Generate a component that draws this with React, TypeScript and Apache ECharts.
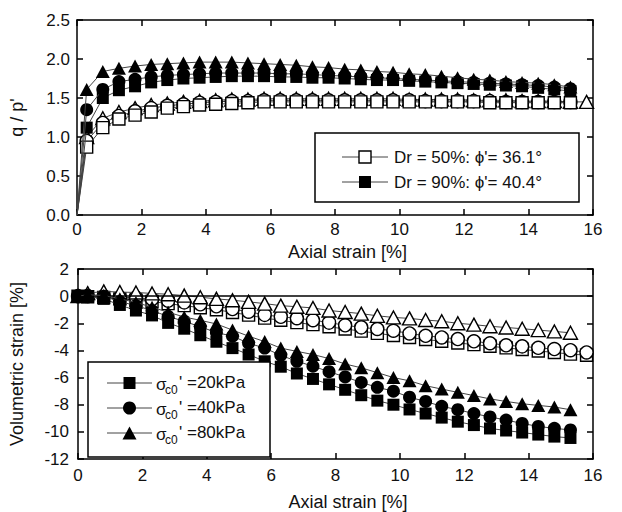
import React, { useEffect, useRef } from "react";
import * as echarts from "echarts";

// Axial strain sample points [%]
const strain = [0, 0.3, 0.8, 1.3, 1.8, 2.3, 2.8, 3.3, 3.8, 4.3, 4.8, 5.3, 5.8, 6.3, 6.8, 7.3, 7.8, 8.3, 8.8, 9.3, 9.8, 10.3, 10.8, 11.3, 11.8, 12.3, 12.8, 13.3, 13.8, 14.3, 14.8, 15.3];
const strainLong = [0, 0.3, 0.8, 1.3, 1.8, 2.3, 2.8, 3.3, 3.8, 4.3, 4.8, 5.3, 5.8, 6.3, 6.8, 7.3, 7.8, 8.3, 8.8, 9.3, 9.8, 10.3, 10.8, 11.3, 11.8, 12.3, 12.8, 13.3, 13.8, 14.3, 14.8, 15.3, 15.8];

// Stress ratio q/p' — Dr = 50% (open) and Dr = 90% (filled)
const qpLoose20 = [0, 0.87, 1.12, 1.23, 1.28, 1.32, 1.37, 1.39, 1.41, 1.42, 1.43, 1.44, 1.45, 1.45, 1.45, 1.45, 1.45, 1.45, 1.45, 1.45, 1.45, 1.45, 1.45, 1.45, 1.45, 1.45, 1.44, 1.44, 1.44, 1.44, 1.44, 1.44];
const qpLoose40 = [0, 0.95, 1.18, 1.27, 1.33, 1.37, 1.4, 1.42, 1.44, 1.45, 1.46, 1.46, 1.47, 1.47, 1.47, 1.47, 1.47, 1.47, 1.47, 1.47, 1.47, 1.47, 1.46, 1.46, 1.46, 1.46, 1.46, 1.45, 1.45, 1.45, 1.45, 1.45];
const qpLoose80 = [0, 1.0, 1.24, 1.32, 1.37, 1.41, 1.43, 1.45, 1.46, 1.47, 1.48, 1.48, 1.49, 1.49, 1.49, 1.49, 1.49, 1.49, 1.49, 1.49, 1.49, 1.48, 1.48, 1.48, 1.48, 1.47, 1.47, 1.47, 1.46, 1.46, 1.46, 1.45, 1.45];
const qpDense20 = [0, 1.12, 1.5, 1.6, 1.65, 1.7, 1.73, 1.75, 1.76, 1.77, 1.78, 1.78, 1.78, 1.77, 1.77, 1.76, 1.76, 1.75, 1.74, 1.73, 1.73, 1.72, 1.71, 1.7, 1.69, 1.68, 1.67, 1.66, 1.65, 1.63, 1.61, 1.59];
const qpDense40 = [0, 1.35, 1.61, 1.71, 1.74, 1.77, 1.79, 1.8, 1.81, 1.82, 1.82, 1.82, 1.82, 1.81, 1.81, 1.8, 1.79, 1.78, 1.77, 1.76, 1.75, 1.74, 1.73, 1.72, 1.71, 1.7, 1.69, 1.68, 1.67, 1.66, 1.64, 1.62];
const qpDense80 = [0, 1.61, 1.84, 1.88, 1.91, 1.93, 1.94, 1.95, 1.96, 1.96, 1.96, 1.95, 1.94, 1.93, 1.92, 1.9, 1.89, 1.87, 1.86, 1.84, 1.83, 1.81, 1.8, 1.78, 1.76, 1.74, 1.73, 1.71, 1.7, 1.69, 1.67, 1.64];

// Volumetric strain [%]
const evLoose20 = [0, -0.05, -0.1, -0.2, -0.3, -0.4, -0.55, -0.7, -0.85, -1.0, -1.2, -1.4, -1.62, -1.78, -1.95, -2.1, -2.26, -2.42, -2.58, -2.74, -2.9, -3.05, -3.2, -3.32, -3.45, -3.57, -3.69, -3.81, -3.93, -4.04, -4.15, -4.27, -4.35];
const evLoose40 = [0, 0, 0, -0.1, -0.1, -0.22, -0.34, -0.46, -0.6, -0.75, -0.95, -1.15, -1.38, -1.52, -1.63, -1.77, -1.95, -2.15, -2.3, -2.42, -2.55, -2.75, -2.92, -3.04, -3.16, -3.33, -3.47, -3.62, -3.7, -3.81, -3.9, -3.98, -4.15];
const evLoose80 = [0, 0.22, 0.35, 0.3, 0.27, 0.2, 0.14, 0.04, -0.08, -0.2, -0.3, -0.42, -0.55, -0.7, -0.78, -0.87, -1.06, -1.17, -1.29, -1.45, -1.57, -1.64, -1.76, -1.85, -2.0, -2.1, -2.22, -2.31, -2.4, -2.5, -2.6, -2.7];
const evDense20 = [0, 0, -0.2, -0.65, -1.06, -1.42, -1.97, -2.4, -2.88, -3.36, -3.83, -4.3, -4.8, -5.2, -5.7, -6.1, -6.5, -6.9, -7.3, -7.7, -8.0, -8.35, -8.65, -8.95, -9.25, -9.5, -9.75, -9.9, -10.05, -10.2, -10.35, -10.45];
const evDense40 = [0, 0.05, 0, -0.4, -0.7, -1.06, -1.5, -1.85, -2.26, -2.68, -2.95, -3.47, -3.83, -4.36, -4.8, -5.16, -5.57, -5.95, -6.36, -6.72, -7.0, -7.45, -7.76, -8.12, -8.37, -8.65, -8.9, -9.13, -9.38, -9.6, -9.74, -9.86];
const evDense80 = [0, 0.1, 0.05, -0.2, -0.46, -0.82, -1.18, -1.54, -1.78, -2.05, -2.5, -2.95, -3.35, -3.83, -4.07, -4.3, -4.6, -5.0, -5.28, -5.64, -6.0, -6.24, -6.6, -6.85, -7.09, -7.33, -7.57, -7.76, -7.93, -8.05, -8.17, -8.37];

const xTitle = "Axial strain [%]";
const topLegend = ["Dr = 50%: \u03d5'= 36.1\u00b0", "Dr = 90%: \u03d5'= 40.4\u00b0"];
const bottomLegend = ["' =20kPa", "' =40kPa", "' =80kPa"];

const FONT = '"Liberation Sans", Arial, sans-serif';
const INK = "#111";

// Upper panel curves start at the origin without a visible marker there
const pair = (xs: number[], ys: number[], hideOrigin: boolean) =>
  ys.map((y, i) => (hideOrigin && i === 0 ? { value: [xs[i], y], symbol: "none" } : [xs[i], y]));

type Shape = "rect" | "circle" | "triangle";

function lineSeries(
  xs: number[],
  ys: number[],
  shape: Shape,
  filled: boolean,
  gridIdx: number,
  z: number,
  extra: any = {}
) {
  return {
    type: "line",
    xAxisIndex: gridIdx * 2,
    yAxisIndex: gridIdx * 2,
    data: pair(xs, ys, gridIdx === 0),
    symbol: shape,
    symbolSize: shape === "triangle" ? [14, 13] : shape === "circle" ? 13 : 12,
    showSymbol: true,
    showAllSymbol: true,
    z,
    lineStyle: { color: "#444", width: 1 },
    itemStyle: {
      color: filled ? "#000" : "#fff",
      borderColor: "#000",
      borderWidth: filled ? 0 : 1.4,
    },
    emphasis: { disabled: true },
    ...extra,
  };
}

function axisBase(extra: any = {}) {
  return {
    type: "value",
    axisLine: { show: true, onZero: false, lineStyle: { color: "#000", width: 1.5 } },
    axisTick: { show: true, inside: true, length: 6, lineStyle: { color: "#000", width: 1.5 } },
    splitLine: { show: false },
    ...extra,
  };
}

function legendMarker(shape: Shape, filled: boolean, cx: number, cy: number) {
  const style = { fill: filled ? "#000" : "#fff", stroke: "#000", lineWidth: filled ? 0 : 1.4 };
  if (shape === "rect") {
    return { type: "rect", z: 101, shape: { x: cx - 6, y: cy - 6, width: 12, height: 12 }, style };
  }
  if (shape === "circle") {
    return { type: "circle", z: 101, shape: { cx, cy, r: 6.5 }, style };
  }
  return {
    type: "polygon",
    z: 101,
    shape: { points: [[cx, cy - 6.5], [cx + 7, cy + 6.5], [cx - 7, cy + 6.5]] },
    style,
  };
}

function legendRow(x1: number, x2: number, cy: number, shape: Shape, filled: boolean) {
  return [
    { type: "line", z: 100, shape: { x1, y1: cy, x2, y2: cy }, style: { stroke: "#444", lineWidth: 1 } },
    legendMarker(shape, filled, (x1 + x2) / 2, cy),
  ];
}

function textEl(text: string, x: number, y: number, size: number) {
  return {
    type: "text",
    z: 101,
    x,
    y,
    style: { text, font: `${size}px ${FONT}`, fill: INK, align: "left", verticalAlign: "middle" },
  };
}

export default function App() {
  const ref = useRef<HTMLDivElement>(null);

  useEffect(() => {
    if (!ref.current) return;
    const chart = echarts.init(ref.current, null, { renderer: "svg" });

    const labelStyle = { color: INK, fontSize: 17, fontFamily: FONT };
    const nameStyle = { color: INK, fontSize: 18, fontFamily: FONT };

    const graphic: any[] = [];
    // Upper legend
    graphic.push({
      type: "rect",
      z: 99,
      shape: { x: 315, y: 133, width: 264, height: 69 },
      style: { fill: "#fff", stroke: "#000", lineWidth: 1.5 },
    });
    graphic.push(...legendRow(342, 388, 157, "rect", false));
    graphic.push(...legendRow(342, 388, 182, "rect", true));
    graphic.push(textEl(topLegend[0], 394, 157, 17));
    graphic.push(textEl(topLegend[1], 394, 182, 17));

    // Lower legend
    graphic.push({
      type: "rect",
      z: 99,
      shape: { x: 88, y: 362, width: 182, height: 95 },
      style: { fill: "#fff", stroke: "#000", lineWidth: 1.5 },
    });
    const rows: [number, Shape][] = [
      [383, "rect"],
      [408, "circle"],
      [433, "triangle"],
    ];
    rows.forEach(([cy, shape], i) => {
      graphic.push(...legendRow(107, 152, cy, shape, true));
      graphic.push(textEl("\u03c3", 156, cy + 1, 17));
      graphic.push(textEl("c0", 165, cy + 7, 12));
      graphic.push(textEl(bottomLegend[i], 179, cy - 1, 17));
    });

    const option: any = {
      animation: false,
      backgroundColor: "#fff",
      grid: [
        { left: 77, top: 20, width: 516, height: 195 },
        { left: 77, top: 269, width: 516, height: 194 },
      ],
      xAxis: [
        axisBase({
          gridIndex: 0,
          position: "bottom",
          min: 0,
          max: 16,
          interval: 2,
          axisLabel: { ...labelStyle, margin: 6 },
          name: xTitle,
          nameLocation: "middle",
          nameGap: 28,
          nameTextStyle: { ...nameStyle, padding: [0, 0, 0, 25] },
        }),
        axisBase({ gridIndex: 0, position: "top", min: 0, max: 16, interval: 2, axisLabel: { show: false } }),
        axisBase({
          gridIndex: 1,
          position: "bottom",
          min: 0,
          max: 16,
          interval: 2,
          axisLabel: { ...labelStyle, margin: 8 },
          name: xTitle,
          nameLocation: "middle",
          nameGap: 34,
          nameTextStyle: { ...nameStyle, padding: [0, 0, 0, 25] },
        }),
        axisBase({ gridIndex: 1, position: "top", min: 0, max: 16, interval: 2, axisLabel: { show: false } }),
      ],
      yAxis: [
        axisBase({
          gridIndex: 0,
          position: "left",
          min: 0,
          max: 2.5,
          interval: 0.5,
          axisLabel: { ...labelStyle, margin: 7, formatter: (v: number) => v.toFixed(1) },
          name: "q / p'",
          nameLocation: "middle",
          nameGap: 51,
          nameTextStyle: nameStyle,
        }),
        axisBase({ gridIndex: 0, position: "right", min: 0, max: 2.5, interval: 0.5, axisLabel: { show: false } }),
        axisBase({
          gridIndex: 1,
          position: "left",
          min: -12,
          max: 2,
          interval: 2,
          axisLabel: { ...labelStyle, margin: 9 },
          name: "Volumetric strain [%]",
          nameLocation: "middle",
          nameGap: 52,
          nameTextStyle: nameStyle,
        }),
        axisBase({ gridIndex: 1, position: "right", min: -12, max: 2, interval: 2, axisLabel: { show: false } }),
      ],
      series: [
        // Upper panel: stress ratio
        lineSeries(strainLong, qpLoose80, "triangle", false, 0, 2),
        lineSeries(strain, qpLoose40, "circle", false, 0, 3),
        lineSeries(strain, qpLoose20, "rect", false, 0, 4),
        lineSeries(strain, qpDense20, "rect", true, 0, 5),
        lineSeries(strain, qpDense40, "circle", true, 0, 6),
        lineSeries(strain, qpDense80, "triangle", true, 0, 7),
        // Lower panel: volumetric strain
        lineSeries(strainLong, evLoose20, "rect", false, 1, 2, {
          markLine: {
            silent: true,
            symbol: ["none", "none"],
            label: { show: false },
            lineStyle: { color: "#000", width: 1.5, type: "solid" },
            data: [{ yAxis: 0 }],
          },
        }),
        lineSeries(strainLong, evLoose40, "circle", false, 1, 3),
        lineSeries(strain, evLoose80, "triangle", false, 1, 4),
        lineSeries(strain, evDense20, "rect", true, 1, 5),
        lineSeries(strain, evDense40, "circle", true, 1, 6),
        lineSeries(strain, evDense80, "triangle", true, 1, 7),
      ],
      graphic,
    };

    chart.setOption(option);
    return () => chart.dispose();
  }, []);

  return (
    <div
      ref={ref}
      style={{ position: "fixed", left: 0, top: 0, width: 622, height: 512, background: "#fff" }}
    />
  );
}
